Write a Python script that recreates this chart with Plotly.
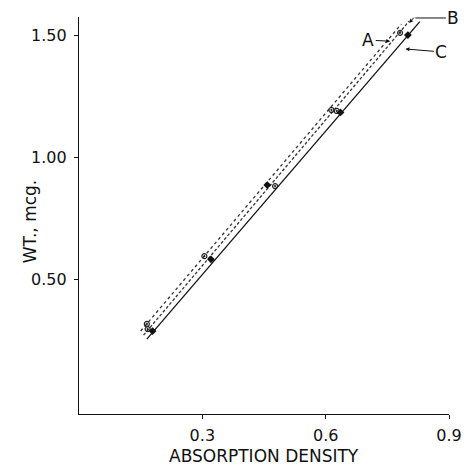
import plotly.graph_objects as go

# Lines (end points of the fitted calibration lines)
line_A_x = [0.150, 0.784]
line_A_y = [0.287, 1.545]
line_B_x = [0.157, 0.803]
line_B_y = [0.270, 1.557]
line_C_x = [0.165, 0.829]
line_C_y = [0.254, 1.555]

# Data points
open_x = [0.165, 0.167, 0.305, 0.477, 0.614, 0.627, 0.781]
open_y = [0.316, 0.295, 0.594, 0.881, 1.193, 1.189, 1.509]
filled_x = [0.179, 0.321, 0.458, 0.636, 0.800]
filled_y = [0.287, 0.581, 0.885, 1.183, 1.500]

x_ticks = [0.3, 0.6, 0.9]
x_tick_labels = ["0.3", "0.6", "0.9"]
y_ticks = [0.5, 1.0, 1.5]
y_tick_labels = ["0.50", "1.00", "1.50"]

x_title = "ABSORPTION DENSITY"
y_title = "WT., mcg."

fig = go.Figure()
fig.add_trace(go.Scatter(x=line_A_x, y=line_A_y, mode="lines",
                         line=dict(color="#333", width=1.3, dash="dot"), showlegend=False))
fig.add_trace(go.Scatter(x=line_B_x, y=line_B_y, mode="lines",
                         line=dict(color="#333", width=1.3, dash="3px,2px"), showlegend=False))
fig.add_trace(go.Scatter(x=line_C_x, y=line_C_y, mode="lines",
                         line=dict(color="#111", width=1.3), showlegend=False))
fig.add_trace(go.Scatter(x=open_x, y=open_y, mode="markers",
                         marker=dict(symbol="circle-open-dot", size=5, color="#222",
                                     line=dict(width=1.2)), showlegend=False))
fig.add_trace(go.Scatter(x=filled_x, y=filled_y, mode="markers",
                         marker=dict(symbol="diamond", size=6, color="#111"), showlegend=False))

font = "DejaVu Sans, Verdana, sans-serif"
ann_font = dict(family=font, size=17, color="#111")
annotations = [
    dict(x=0.757, y=1.475, text="A", showarrow=True, ax=-22, ay=-1,
         arrowhead=2, arrowsize=0.8, arrowwidth=1, arrowcolor="#111", font=ann_font),
    dict(x=0.818, y=1.570, text="B", showarrow=True, ax=38, ay=0,
         arrowhead=0, arrowwidth=1, arrowcolor="#111", font=ann_font),
    dict(x=0.803, y=1.549, text="", showarrow=True, ax=6, ay=-7,
         arrowhead=2, arrowsize=0.8, arrowwidth=1, arrowcolor="#111", font=ann_font),
    dict(x=0.794, y=1.443, text="C", showarrow=True, ax=36, ay=3,
         arrowhead=2, arrowsize=0.8, arrowwidth=1, arrowcolor="#111", font=ann_font),
    # axis titles
    dict(xref="paper", yref="paper", x=0.5, y=-0.106, text=x_title, showarrow=False,
         xanchor="center", yanchor="middle", borderpad=0,
         font=dict(size=17, family=font, color="#111")),
    dict(xref="paper", yref="paper", x=-0.132, y=0.486, text=y_title, showarrow=False,
         textangle=-90, xanchor="center", yanchor="middle",
         font=dict(size=17, family=font, color="#111")),
]

fig.update_layout(
    width=466, height=467,
    margin=dict(l=79, r=17, t=17, b=53, autoexpand=False),
    paper_bgcolor="white", plot_bgcolor="white",
    font=dict(family=font, color="#111"),
    annotations=annotations,
    xaxis=dict(range=[0, 0.9], showgrid=False, zeroline=False, showline=True,
               automargin=False,
               linecolor="#111", linewidth=1.3, ticks="outside", ticklen=4,
               tickcolor="#111", tickvals=x_ticks, ticktext=x_tick_labels,
               ticklabelstandoff=3,
               tickfont=dict(size=16, family=font, color="#111")),
    yaxis=dict(range=[-0.053, 1.574], showgrid=False, zeroline=False, showline=True,
               automargin=False,
               linecolor="#111", linewidth=1.3, ticks="outside", ticklen=4,
               tickcolor="#111", tickvals=y_ticks, ticktext=y_tick_labels,
               ticklabelstandoff=4,
               tickfont=dict(size=16, family=font, color="#111")),
)

fig.write_html("out.html")
